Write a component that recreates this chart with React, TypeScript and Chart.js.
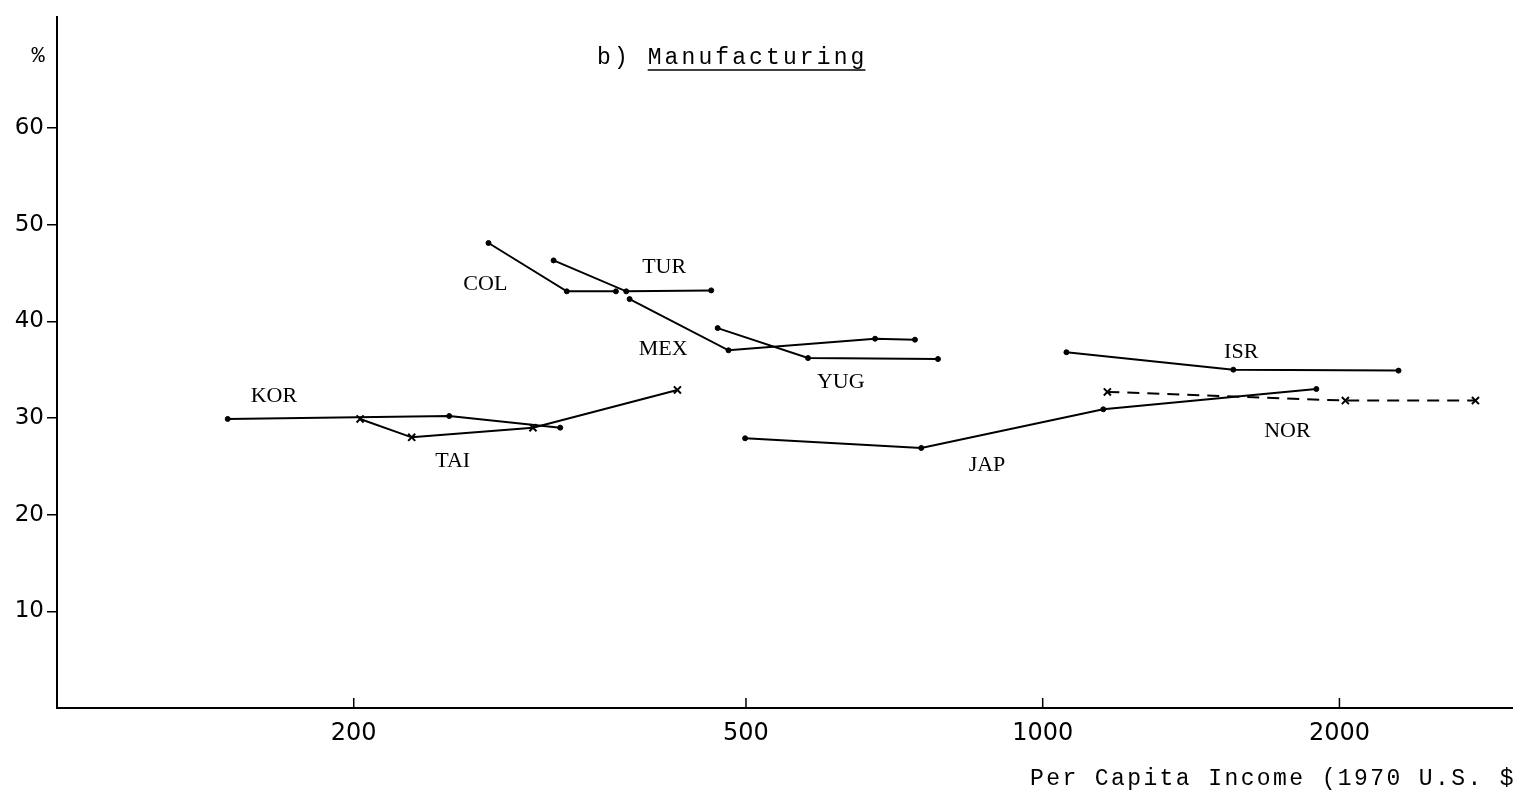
import React, { useEffect, useRef } from "react";
import { Chart, registerables } from "chart.js";

Chart.register(...registerables);

// ---- Data (per capita income in 1970 US$, manufacturing share %) ----
const korIncome = [149, 250, 324];
const korShare = [29.9, 30.2, 29.0];
const taiIncome = [203, 229, 304, 426];
const taiShare = [29.9, 28.0, 29.0, 32.9];
const colIncome = [274, 329, 369];
const colShare = [48.1, 43.1, 43.1];
const turIncome = [319, 378, 461];
const turShare = [46.3, 43.1, 43.2];
const mexIncome = [381, 480, 676, 742];
const mexShare = [42.3, 37.0, 38.2, 38.1];
const yugIncome = [468, 578, 783];
const yugShare = [39.3, 36.2, 36.1];
const japIncome = [499, 753, 1152, 1895];
const japShare = [27.9, 26.9, 30.9, 33.0];
const isrIncome = [1057, 1561, 2296];
const isrShare = [36.8, 35.0, 34.9];
const norIncome = [1163, 2028, 2748];
const norShare = [32.7, 31.8, 31.8];

const xTickValues = [200, 500, 1000, 2000];
const yTickValues = [10, 20, 30, 40, 50, 60];

const countryNames = ["KOR", "TAI", "COL", "TUR", "MEX", "YUG", "JAP", "ISR", "NOR"];
const labelIncome = [166, 252, 272, 413, 412, 624, 878, 1590, 1771];
const labelShare = [32.3, 25.5, 43.8, 45.6, 37.1, 33.7, 25.1, 36.8, 28.6];

const titlePrefix = "b) ";
const titleMain = "Manufacturing";
const yUnit = "%";
const xTitle = "Per Capita Income (1970 U.S. $)";

const zip = (xs: number[], ys: number[]) => xs.map((x, i) => ({ x, y: ys[i] }));

function series(label: string, xs: number[], ys: number[], marker: "dot" | "cross", dashed = false) {
  return {
    label,
    data: zip(xs, ys),
    showLine: true,
    borderColor: "#000",
    backgroundColor: "#000",
    borderWidth: 2,
    borderDash: dashed ? [12, 8] : [],
    pointStyle: marker === "dot" ? "circle" : "crossRot",
    pointRadius: marker === "dot" ? 2.5 : 5,
    pointBorderWidth: marker === "dot" ? 1 : 2,
    pointBorderColor: "#000",
    pointBackgroundColor: "#000",
    tension: 0,
    fill: false,
  };
}

const decorPlugin = {
  id: "decor",
  afterDraw(chart: any) {
    const ctx = chart.ctx;
    const xs = chart.scales.x;
    const ys = chart.scales.y;
    const bottom = chart.chartArea.bottom;
    ctx.save();
    ctx.strokeStyle = "#000";
    ctx.fillStyle = "#000";
    // x tick marks pointing upward
    ctx.lineWidth = 1.5;
    xTickValues.forEach((v) => {
      const px = xs.getPixelForValue(v);
      ctx.beginPath();
      ctx.moveTo(px, bottom);
      ctx.lineTo(px, bottom - 10);
      ctx.stroke();
    });
    // country labels
    ctx.font = "22px 'Liberation Serif'";
    ctx.textAlign = "center";
    ctx.textBaseline = "middle";
    countryNames.forEach((n, i) => {
      ctx.fillText(n, xs.getPixelForValue(labelIncome[i]), ys.getPixelForValue(labelShare[i]));
    });
    // title
    ctx.font = "23px 'Liberation Mono'";
    (ctx as any).letterSpacing = "3.1px";
    ctx.textAlign = "left";
    ctx.textBaseline = "alphabetic";
    const tx = 597;
    const ty = 64;
    ctx.fillText(titlePrefix, tx, ty);
    const pw = ctx.measureText(titlePrefix).width;
    ctx.fillText(titleMain, tx + pw, ty);
    const mw = ctx.measureText(titleMain).width;
    ctx.lineWidth = 1.5;
    ctx.beginPath();
    ctx.moveTo(tx + pw, ty + 6);
    ctx.lineTo(tx + pw + mw - 2, ty + 6);
    ctx.stroke();
    // axis title
    ctx.font = "23px 'Liberation Mono'";
    (ctx as any).letterSpacing = "2.4px";
    ctx.fillText(xTitle, 1030, 785);
    (ctx as any).letterSpacing = "0px";
    // % unit
    ctx.font = "22px 'Liberation Mono'";
    ctx.textAlign = "center";
    ctx.fillText(yUnit, 38, 62);
    ctx.restore();
  },
};

export default function App() {
  const ref = useRef<HTMLCanvasElement | null>(null);
  useEffect(() => {
    if (!ref.current) return;
    const chart = new Chart(ref.current, {
      type: "scatter",
      data: {
        datasets: [
          series("KOR", korIncome, korShare, "dot"),
          series("TAI", taiIncome, taiShare, "cross"),
          series("COL", colIncome, colShare, "dot"),
          series("TUR", turIncome, turShare, "dot"),
          series("MEX", mexIncome, mexShare, "dot"),
          series("YUG", yugIncome, yugShare, "dot"),
          series("JAP", japIncome, japShare, "dot"),
          series("ISR", isrIncome, isrShare, "dot"),
          series("NOR", norIncome, norShare, "cross", true),
        ] as any,
      },
      options: {
        responsive: false,
        animation: false,
        devicePixelRatio: 1,
        layout: { autoPadding: false, padding: { top: 13, right: 0, left: 0, bottom: 0 } },
        plugins: { legend: { display: false }, tooltip: { enabled: false }, title: { display: false } },
        scales: {
          x: {
            type: "logarithmic",
            min: 100,
            max: 3000,
            position: "bottom",
            border: { display: true, color: "#000", width: 2 },
            grid: { display: true, drawOnChartArea: false, drawTicks: false, color: "#000" },
            afterBuildTicks: (s: any) => {
              s.ticks = xTickValues.map((v) => ({ value: v }));
            },
            afterFit: (s: any) => {
              s.height = 87;
            },
            ticks: {
              autoSkip: false,
              maxRotation: 0,
              padding: 11,
              color: "#000",
              font: { family: "'DejaVu Sans'", size: 24 },
              callback: (v: any) => String(v),
            },
          },
          y: {
            type: "linear",
            min: 0,
            max: 71.5,
            border: { display: true, color: "#000", width: 2 },
            grid: { display: true, drawOnChartArea: false, drawTicks: true, tickLength: 10, color: "#000", lineWidth: 1.5 },
            afterBuildTicks: (s: any) => {
              s.ticks = yTickValues.map((v) => ({ value: v }));
            },
            afterFit: (s: any) => {
              s.width = 57;
            },
            ticks: {
              padding: 3,
              color: "#000",
              font: { family: "'DejaVu Sans'", size: 23 },
              callback: (v: any) => String(v),
            },
          },
        },
      } as any,
      plugins: [decorPlugin],
    });
    return () => chart.destroy();
  }, []);
  return (
    <div style={{ position: "absolute", left: 0, top: 0, width: 1513, height: 795, background: "#fff" }}>
      <canvas ref={ref} width={1513} height={795} style={{ display: "block" }} />
    </div>
  );
}
